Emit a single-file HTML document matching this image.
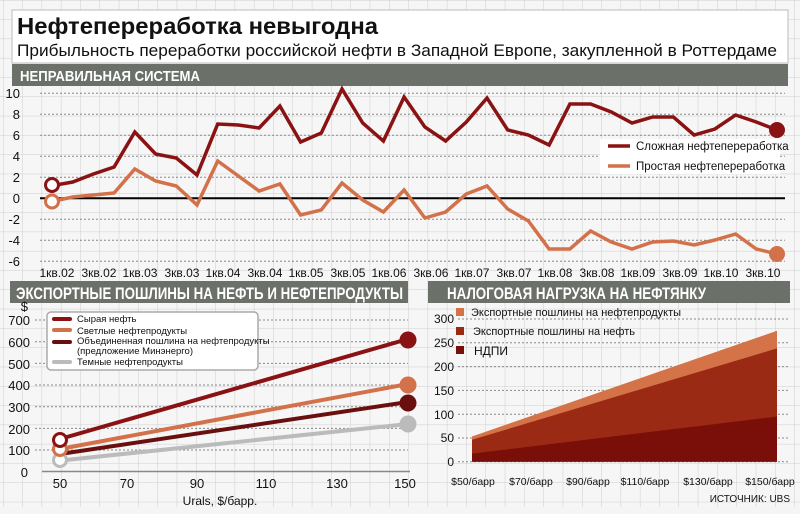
<!DOCTYPE html>
<html><head><meta charset="utf-8"><style>
html,body{margin:0;padding:0;background:#f5f5f5}
svg{display:block}
text{font-family:"Liberation Sans Narrow","Liberation Sans",sans-serif}
</style></head><body>
<svg width="800" height="514" viewBox="0 0 800 514" xmlns="http://www.w3.org/2000/svg">
<defs>
<pattern id="g" width="19.3" height="19.3" patternUnits="userSpaceOnUse" x="3" y="0">
<rect width="19.3" height="19.3" fill="#f6f6f6"/>
<path d="M0 0V19.3M0 0H19.3" stroke="#cfcfcf" stroke-width="1"/>
</pattern>
</defs>
<rect width="800" height="507" fill="url(#g)"/>
<rect y="507" width="800" height="7" fill="#f5f5f5"/>
<!-- title -->
<rect x="12" y="10" width="776" height="53" fill="#fff" stroke="#bbb"/>
<text x="17" y="34" font-size="23" font-weight="bold" textLength="361" lengthAdjust="spacingAndGlyphs" fill="#111">Нефтепереработка невыгодна</text>
<text x="17" y="56" font-size="17" textLength="760" lengthAdjust="spacingAndGlyphs" fill="#111">Прибыльность переработки российской нефти в Западной Европе, закупленной в Роттердаме</text>
<rect x="12" y="64" width="776" height="22" fill="#6b7068"/>
<text x="20" y="81" font-size="15" font-weight="bold" fill="#fff" textLength="180" lengthAdjust="spacingAndGlyphs">НЕПРАВИЛЬНАЯ СИСТЕМА</text>
<!-- top chart -->
<g stroke="#888" stroke-width="1" stroke-dasharray="2,2">
<line x1="40" x2="785" y1="93.3" y2="93.3"/><line x1="40" x2="785" y1="114.3" y2="114.3"/>
<line x1="40" x2="785" y1="135.3" y2="135.3"/><line x1="40" x2="785" y1="156.3" y2="156.3"/>
<line x1="40" x2="785" y1="177.3" y2="177.3"/><line x1="40" x2="785" y1="219.3" y2="219.3"/>
<line x1="40" x2="785" y1="240.3" y2="240.3"/><line x1="40" x2="785" y1="261.3" y2="261.3"/>
</g>
<line x1="40" x2="785" y1="198.3" y2="198.3" stroke="#000" stroke-width="2"/>
<g font-size="13" fill="#111" text-anchor="end">
<text x="20" y="98">10</text><text x="20" y="119">8</text><text x="20" y="140">6</text><text x="20" y="161">4</text>
<text x="20" y="182">2</text><text x="20" y="203">0</text><text x="20" y="224">-2</text><text x="20" y="245">-4</text><text x="20" y="266">-6</text>
</g>
<g font-size="12" fill="#111" text-anchor="middle">
<text x="57" y="277">1кв.02</text><text x="99" y="277">3кв.02</text><text x="140" y="277">1кв.03</text><text x="182" y="277">3кв.03</text>
<text x="223" y="277">1кв.04</text><text x="265" y="277">3кв.04</text><text x="306" y="277">1кв.05</text><text x="348" y="277">3кв.05</text>
<text x="389" y="277">1кв.06</text><text x="431" y="277">3кв.06</text><text x="472" y="277">1кв.07</text><text x="514" y="277">3кв.07</text>
<text x="555" y="277">1кв.08</text><text x="597" y="277">3кв.08</text><text x="638" y="277">1кв.09</text><text x="680" y="277">3кв.09</text>
<text x="721" y="277">1кв.10</text><text x="763" y="277">3кв.10</text>
</g>
<polyline fill="none" stroke="#8b1212" stroke-width="3.5" stroke-linejoin="miter" points="52,185.7 72.7,182 93.4,174 114.1,167 134.8,132 155.6,154 176.3,158 197,175 217.7,124 238.4,125 259.1,128 279.9,106 300.6,142 321.3,133 342,89 362.7,123 383.4,141 404.1,97 424.9,127 445.6,141 466.3,122 487,98 507.7,130 528.4,135 549.1,145 569.9,104 590.6,104 611.3,112 632,123 652.7,117 673.4,117 694.1,135 714.9,129 735.6,115 756.3,122 777,130"/>
<polyline fill="none" stroke="#d2714a" stroke-width="3.5" points="52,201.5 72.7,197 93.4,195 114.1,193 134.8,169 155.6,181 176.3,186 197,205 217.7,161 238.4,176 259.1,191 279.9,184 300.6,215 321.3,210 342,183 362.7,200 383.4,212 404.1,190 424.9,218 445.6,212 466.3,194 487,186 507.7,209 528.4,221 549.1,249 569.9,249 590.6,231 611.3,242 632,249 652.7,242 673.4,241 694.1,245 714.9,240 735.6,234 756.3,249 777,254"/>
<circle cx="52" cy="185" r="6.5" fill="#fff" stroke="#8b1212" stroke-width="3"/>
<circle cx="52" cy="201.5" r="6.5" fill="#fff" stroke="#d2714a" stroke-width="3"/>
<circle cx="777" cy="130" r="8" fill="#8b1212"/>
<circle cx="777" cy="254" r="8" fill="#d2714a"/>
<rect x="600" y="139" width="180" height="35" fill="#fff"/>
<line x1="608" x2="630" y1="146" y2="146" stroke="#8b1212" stroke-width="3.5"/>
<line x1="608" x2="630" y1="166" y2="166" stroke="#d2714a" stroke-width="3.5"/>
<text x="636" y="150" font-size="11.5" fill="#111">Сложная нефтепереработка</text>
<text x="636" y="170" font-size="11.5" fill="#111">Простая нефтепереработка</text>
<!-- bottom left -->
<rect x="10" y="281" width="398" height="22" fill="#6b7068"/>
<text x="16" y="299" font-size="17" font-weight="bold" fill="#fff" textLength="387" lengthAdjust="spacingAndGlyphs">ЭКСПОРТНЫЕ ПОШЛИНЫ НА НЕФТЬ И НЕФТЕПРОДУКТЫ</text>
<g stroke="#888" stroke-dasharray="2,2">
<line x1="35" x2="408" y1="320" y2="320"/><line x1="35" x2="408" y1="341.7" y2="341.7"/><line x1="35" x2="408" y1="363.4" y2="363.4"/>
<line x1="35" x2="408" y1="385" y2="385"/><line x1="35" x2="408" y1="406.7" y2="406.7"/><line x1="35" x2="408" y1="428.4" y2="428.4"/>
<line x1="35" x2="408" y1="450" y2="450"/>
</g>
<line x1="42" x2="410" y1="471.5" y2="471.5" stroke="#888" stroke-width="1.5"/>
<g font-size="13" fill="#111" text-anchor="end">
<text x="28" y="311">$</text>
<text x="30" y="325">700</text><text x="30" y="347">600</text><text x="30" y="369">500</text><text x="30" y="390">400</text>
<text x="30" y="412">300</text><text x="30" y="434">200</text><text x="30" y="455">100</text><text x="28" y="477">0</text>
</g>
<g font-size="13" fill="#111" text-anchor="middle">
<text x="60" y="488">50</text><text x="127" y="488">70</text><text x="197" y="488">90</text><text x="266" y="488">110</text><text x="337" y="488">130</text><text x="405" y="488">150</text>
</g>
<text x="220" y="505" font-size="12" fill="#111" text-anchor="middle">Urals, $/барр.</text>
<line x1="60" y1="460.6" x2="408" y2="424" stroke="#bbb" stroke-width="4"/>
<line x1="60" y1="454" x2="408" y2="402" stroke="#6a0f0f" stroke-width="4"/>
<line x1="60" y1="449" x2="408" y2="384" stroke="#d2714a" stroke-width="4"/>
<line x1="60" y1="439" x2="408" y2="339" stroke="#8b1212" stroke-width="4"/>
<circle cx="60" cy="460" r="6.5" fill="#fff" stroke="#bbb" stroke-width="3"/>
<circle cx="60" cy="449" r="6.5" fill="#fff" stroke="#d2714a" stroke-width="3"/>
<circle cx="60" cy="440" r="6.5" fill="#fff" stroke="#8b1212" stroke-width="3"/>
<circle cx="408" cy="424" r="8.5" fill="#bbb"/>
<circle cx="408" cy="403" r="8.5" fill="#6a0f0f"/>
<circle cx="408" cy="385" r="8.5" fill="#d2714a"/>
<circle cx="408" cy="340" r="8.5" fill="#8b1212"/>
<rect x="47" y="312" width="211" height="58" rx="4" fill="#fff" stroke="#aaa" stroke-width="1.5"/>
<line x1="54" x2="70" y1="319" y2="319" stroke="#8b1212" stroke-width="4" stroke-linecap="round"/>
<line x1="54" x2="70" y1="330" y2="330" stroke="#d2714a" stroke-width="4" stroke-linecap="round"/>
<line x1="54" x2="70" y1="342" y2="342" stroke="#6a0f0f" stroke-width="4" stroke-linecap="round"/>
<line x1="54" x2="70" y1="362" y2="362" stroke="#bbb" stroke-width="4" stroke-linecap="round"/>
<g font-size="9.5" fill="#111">
<text x="77" y="322">Сырая нефть</text>
<text x="77" y="334">Светлые нефтепродукты</text>
<text x="77" y="344">Объединенная пошлина на нефтепродукты</text>
<text x="77" y="354">(предложение Минэнерго)</text>
<text x="77" y="365">Темные нефтепродукты</text>
</g>
<!-- bottom right -->
<rect x="428" y="281" width="362" height="22" fill="#6b7068"/>
<text x="447" y="299" font-size="17" font-weight="bold" fill="#fff" textLength="259" lengthAdjust="spacingAndGlyphs">НАЛОГОВАЯ НАГРУЗКА НА НЕФТЯНКУ</text>
<g stroke="#888" stroke-dasharray="2,2">
<line x1="458" x2="790" y1="319" y2="319"/><line x1="458" x2="790" y1="342.8" y2="342.8"/><line x1="458" x2="790" y1="366.6" y2="366.6"/>
<line x1="458" x2="790" y1="390.4" y2="390.4"/><line x1="458" x2="790" y1="414.2" y2="414.2"/><line x1="458" x2="790" y1="438" y2="438"/>
<line x1="458" x2="790" y1="461.7" y2="461.7"/>
</g>
<g font-size="12" fill="#111" text-anchor="end">
<text x="454" y="323">300</text><text x="454" y="347">250</text><text x="454" y="371">200</text><text x="454" y="395">150</text>
<text x="454" y="419">100</text><text x="454" y="442">50</text><text x="454" y="466">0</text>
</g>
<polygon points="472,461.7 472,436.5 777,330.8 777,461.7" fill="#d47248"/>
<polygon points="472,461.7 472,439.8 777,348.4 777,461.7" fill="#9b2a14"/>
<polygon points="472,461.7 472,453.6 777,416.5 777,461.7" fill="#7a0f0a"/>
<rect x="456" y="308" width="8" height="8" fill="#d47248"/>
<rect x="456" y="327" width="8" height="8" fill="#9b2a14"/>
<rect x="456" y="346" width="8" height="8" fill="#7a0f0a"/>
<g font-size="11" fill="#111">
<text x="471" y="316">Экспортные пошлины на нефтепродукты</text>
<text x="473" y="335">Экспортные пошлины на нефть</text>
<text x="474" y="355" font-size="12">НДПИ</text>
</g>
<g font-size="10.5" fill="#111" text-anchor="middle">
<text x="473" y="485">$50/барр</text><text x="531" y="485">$70/барр</text><text x="588" y="485">$90/барр</text>
<text x="645" y="485">$110/барр</text><text x="708" y="485">$130/барр</text><text x="770" y="485">$150/барр</text>
</g>
<text x="790" y="502" font-size="10" fill="#111" text-anchor="end">ИСТОЧНИК: UBS</text>
</svg>
</body></html>
